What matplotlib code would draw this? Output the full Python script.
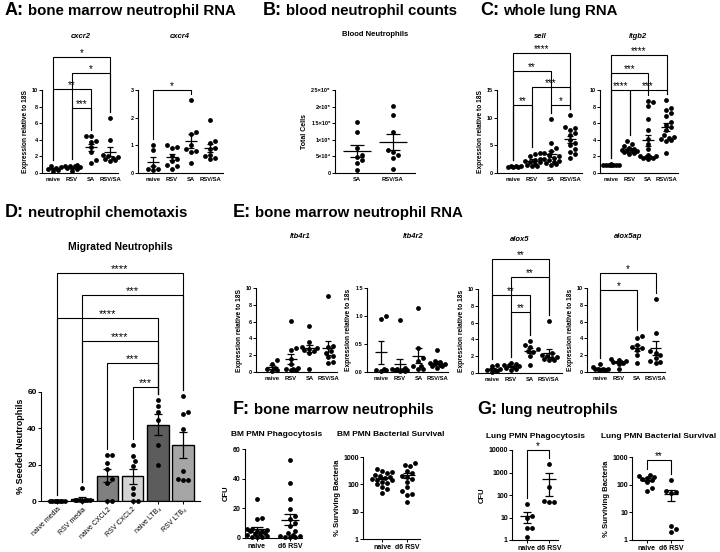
import matplotlib.pyplot as plt
import matplotlib.transforms as mtransforms
from matplotlib.ticker import NullLocator
import numpy as np

plt.rcParams["font.family"] = ["Liberation Sans", "DejaVu Sans"]
plt.rcParams["font.weight"] = "bold"
plt.rcParams["axes.labelweight"] = "bold"

W, H = 720, 552

# ---- data -------------------------------------------------------------
GROUPS4 = ["naive", "RSV", "SA", "RSV/SA"]

CXCR2 = [
    [0.9, 0.7, 0.6, 0.5, 0.4, 0.3],
    [0.95, 0.9, 0.85, 0.8, 0.7, 0.65, 0.6, 0.5, 0.3],
    [4.4, 4.4, 3.9, 3.7, 3.1, 2.5, 1.6, 1.2],
    [6.6, 4.0, 2.2, 2.0, 1.9, 1.8, 1.7, 1.6, 1.5],
]
CXCR4 = [
    [1.0, 0.82, 0.27, 0.15, 0.13, 0.1],
    [1.0, 0.93, 0.9, 0.63, 0.51, 0.45, 0.29, 0.27, 0.15],
    [2.65, 1.48, 1.4, 1.0, 0.85, 0.8, 0.75, 0.36],
    [1.93, 1.15, 1.1, 0.9, 0.87, 0.66, 0.6, 0.53, 0.5],
]

BLOOD_GROUPS = ["SA", "RSV/SA"]
BLOOD = [
    [153000, 124000, 75000, 55000, 48000, 38000, 30000, 10000],
    [202000, 175000, 122000, 68000, 62000, 55000, 45000, 12000],
]
BLOOD_YTICKS = [0, 50000, 100000, 150000, 200000, 250000]
BLOOD_YLABELS = ["0", "5×10⁴", "1×10⁵", "1.5×10⁵", "2×10⁵", "2.5×10⁵"]

SELL = [
    [1.3, 1.2, 1.2, 1.1, 1.0, 1.0],
    [3.6, 3.4, 3.0, 2.6, 2.4, 2.2, 2.0, 1.9, 1.7, 1.5, 1.3, 1.2],
    [9.8, 5.5, 4.6, 4.0, 3.6, 3.2, 3.0, 2.8, 2.6, 2.4, 2.2, 2.0, 1.8, 1.6, 1.5],
    [10.5, 8.3, 8.1, 7.8, 7.2, 6.9, 6.0, 5.5, 5.0, 4.4, 3.8, 3.4, 2.7],
]
ITGB2 = [
    [1.05, 1.0, 1.0, 1.0, 0.95, 0.95, 1.0, 0.98],
    [3.9, 3.5, 3.2, 3.0, 2.9, 2.8, 2.7, 2.6, 2.6, 2.5, 2.4, 2.3],
    [8.7, 8.5, 8.1, 6.5, 5.2, 4.1, 3.5, 2.9, 2.2, 2.0, 1.9, 1.9, 1.8, 1.8, 1.7, 2.1],
    [8.8, 7.8, 7.6, 7.2, 6.9, 6.2, 5.8, 5.5, 5.2, 4.6, 4.3, 4.2, 4.0, 3.9, 4.1, 2.4],
]

CHEMO_GROUPS = ["naive media", "RSV media", "naive CXCL2", "RSV CXCL2", "naive LTB₄", "RSV LTB₄"]
CHEMO = [
    [0.2, 0.15, 0.1, 0.1, 0.2, 0.1, 0.15, 0.1],
    [7.0, 0.5, 0.4, 0.3, 0.5, 0.3, 0.2, 0.4],
    [25.4, 25.4, 20.8, 17.5, 12.0, 9.8, 0.0, 0.0],
    [31.0, 24.5, 22.0, 19.5, 7.0, 4.0, 0.0, 0.0],
    [55.5, 52.5, 49.0, 44.5, 31.0, 20.0],
    [58.0, 49.0, 48.0, 39.5, 16.5, 12.0, 11.5, 11.5],
]
CHEMO_COLORS = ["#3a3a3a", "#222222", "#808080", "#d4d4d4", "#5c5c5c", "#a6a6a6"]

LTB4R1 = [
    [1.4, 1.0, 0.5, 0.3, 0.2, 0.1],
    [6.1, 2.8, 2.6, 1.6, 1.0, 0.5, 0.4, 0.3, 0.2, 0.2],
    [5.5, 3.6, 3.0, 2.8, 2.7, 2.6, 2.5, 2.3, 0.4],
    [9.0, 3.1, 3.0, 2.5, 2.3, 1.9, 1.8, 1.2, 1.1],
]
LTB4R2 = [
    [1.0, 0.95, 0.05, 0.04, 0.03, 0.02],
    [0.93, 0.08, 0.06, 0.05, 0.04, 0.03, 0.03, 0.02, 0.02],
    [1.14, 0.43, 0.25, 0.2, 0.1, 0.06, 0.05, 0.1],
    [0.4, 0.2, 0.18, 0.16, 0.15, 0.14, 0.12, 0.1, 0.1, 0.08],
]
ALOX5 = [
    [1.0, 0.8, 0.5, 0.3, 0.2, 0.1, 0.3],
    [1.2, 1.1, 1.0, 0.9, 0.8, 0.7, 0.6, 0.5, 0.4],
    [3.8, 3.3, 3.1, 2.9, 2.6, 2.5, 2.0, 1.0],
    [6.2, 2.4, 2.2, 2.0, 1.9, 1.8, 1.7, 1.6, 1.5],
]
ALOX5AP = [
    [1.0, 0.6, 0.4, 0.3, 0.2, 0.2, 0.3, 0.4],
    [1.6, 1.4, 1.3, 1.2, 1.2, 1.1, 1.0, 0.4],
    [4.3, 4.0, 3.2, 3.0, 2.8, 2.6, 2.0, 1.1],
    [8.7, 4.6, 2.5, 2.3, 2.0, 1.7, 1.3, 1.2, 1.1],
]

GROUPS2 = ["naive", "d6 RSV"]
BM_PHAGO = [
    [26, 13.5, 12.5, 6, 5, 6, 5.5, 5, 4.5, 3.5, 3, 2.5, 2, 1.5, 1, 0.5, 0.5],
    [52.5, 37, 26.5, 19.5, 15, 12.5, 10, 8, 5, 3.5, 2, 1.5, 1.5, 1, 0.5, 0.5],
]
BM_SURV = [
    [350, 300, 280, 250, 220, 200, 180, 170, 160, 150, 140, 120, 110, 100, 80, 70, 50],
    [600, 500, 450, 320, 250, 200, 180, 160, 120, 80, 55, 45, 40, 22],
]
LUNG_PHAGO = [
    [38, 12, 10, 3.5, 3.5, 1.3],
    [2300, 220, 55, 50, 50],
]
LUNG_SURV = [
    [230, 200, 190, 180, 160, 150, 130, 75, 58],
    [145, 60, 55, 50, 3.2, 2.5, 1.9],
]

# ---- helpers ----------------------------------------------------------
fig = plt.figure(figsize=(W / 100, H / 100), dpi=100)
renderer = fig.canvas.get_renderer()


def px_axes(left, right, top, bottom):
    return fig.add_axes([left / W, 1 - bottom / H, (right - left) / W, (bottom - top) / H])


def cat_axes(left, first, step, right, top, bottom, ylim, yticks, ylabels=None, log=False, fs=4):
    ax = px_axes(left, right, top, bottom)
    ax.set_xlim((left - first) / step, (right - first) / step)
    if log:
        ax.set_yscale("log")
    ax.set_ylim(*ylim)
    ax.set_yticks(yticks)
    ax.set_yticklabels(ylabels if ylabels is not None else [f"{t:g}" for t in yticks])
    ax.yaxis.set_minor_locator(NullLocator())
    ax.spines[["top", "right"]].set_visible(False)
    ax.spines[["left", "bottom"]].set_linewidth(0.8)
    ax.tick_params(labelsize=fs, width=0.7, length=2, pad=1)
    ax.tick_params(axis="x", length=0, pad=3)
    ax.patch.set_visible(False)
    return ax


def swarm_x(ax, xc, vals, spread, diam=5.0):
    pts = ax.transData.transform(np.column_stack([np.full(len(vals), xc), vals]))
    cx, ys = pts[0, 0], pts[:, 1]
    steps = [0.0]
    k = 1
    while k * diam * 0.5 <= spread:
        steps += [k * diam * 0.5, -k * diam * 0.5]
        k += 1
    placed = []
    xs = np.zeros(len(vals))
    for idx in np.argsort(ys):
        best, best_d = 0.0, -1.0
        for s in steps:
            if not placed:
                best = s
                break
            d = min(np.hypot(s - px, ys[idx] - py) for px, py in placed)
            if d >= diam * 0.95:
                best = s
                break
            if d > best_d:
                best_d, best = d, s
        placed.append((best, ys[idx]))
        xs[idx] = cx + best
    return ax.transData.inverted().transform(np.column_stack([xs, ys]))[:, 0]


def dots(ax, data, spread, mean=True, hw=0.32, cap=0.18):
    lo = ax.get_ylim()[0]
    for i, vals in enumerate(data):
        vals = np.asarray(vals, float)
        xs = swarm_x(ax, i, vals, spread)
        ax.scatter(xs, vals, s=12, color="black", linewidths=0, zorder=3, clip_on=False)
        if mean:
            m = vals.mean()
            se = vals.std(ddof=1) / np.sqrt(len(vals))
            bot = max(m - se, lo)
            kw = dict(color="black", lw=0.9, zorder=4, clip_on=False, solid_capstyle="butt")
            ax.plot([i - hw, i + hw], [m, m], **kw)
            ax.plot([i, i], [bot, m + se], **kw)
            ax.plot([i - cap, i + cap], [m + se, m + se], **kw)
            if m - se > lo:
                ax.plot([i - cap, i + cap], [bot, bot], **kw)


def bracket(ax, i, j, ypx, label, data, fs=7):
    tr = mtransforms.blended_transform_factory(ax.transData, mtransforms.IdentityTransform())
    yl = H - ypx

    def leg(g):
        top = ax.transData.transform((g, max(data[g])))[1]
        return min(top + 6, yl)

    ax.plot([i, i, j, j], [leg(i), yl, yl, leg(j)], transform=tr, color="black", lw=0.8,
            clip_on=False, solid_joinstyle="miter")
    ax.text((i + j) / 2, yl + 0.5, label, transform=tr, ha="center", va="baseline",
            fontsize=fs, fontweight="normal", clip_on=False)


def panel_title(x, base, letter, text):
    t = fig.text(x / W, 1 - base / H, letter, fontsize=13, va="baseline")
    bb = t.get_window_extent(renderer)
    fig.text((bb.x1 + 4) / W, 1 - base / H, text, fontsize=10.8, va="baseline")


def sub_title(x, y, text, fs=5.5, italic=False):
    fig.text(x / W, 1 - y / H, text, fontsize=fs, ha="center", va="center",
             style="italic" if italic else "normal")


# ---- A: bone marrow neutrophil RNA -----------------------------------
panel_title(5, 15, "A:", "bone marrow neutrophil RNA")

ax = cat_axes(42, 53, 19, 118, 90, 173, (0, 10), [0, 2, 4, 6, 8, 10])
ax.set_xticks(range(4), GROUPS4, fontsize=4.2)
ax.set_ylabel("Expression relative to 18S", fontsize=4.8, labelpad=2)
dots(ax, CXCR2, 8)
for i, j, y, s in [(0, 3, 57, "*"), (1, 3, 73, "*"), (0, 2, 89, "**"), (1, 2, 108, "***")]:
    bracket(ax, i, j, y, s, CXCR2)
sub_title(81, 36, "cxcr2", italic=True)

ax = cat_axes(138, 153, 19, 223, 90, 173, (0, 3), [0, 1, 2, 3])
ax.set_xticks(range(4), GROUPS4, fontsize=4.2)
dots(ax, CXCR4, 8)
bracket(ax, 0, 2, 90, "*", CXCR4)
sub_title(180, 36, "cxcr4", italic=True)

# ---- B: blood neutrophil counts ----------------------------------------
panel_title(263, 15, "B:", "blood neutrophil counts")
ax = cat_axes(335, 357, 36, 415, 90, 173, (0, 250000), BLOOD_YTICKS, BLOOD_YLABELS)
ax.set_xticks(range(2), BLOOD_GROUPS, fontsize=4.2)
ax.set_ylabel("Total Cells", fontsize=5, labelpad=2)
dots(ax, BLOOD, 9, hw=0.4, cap=0.2)
sub_title(375, 35, "Blood Neutrophils")

# ---- C: whole lung RNA -------------------------------------------------
panel_title(480, 15, "C:", "whole lung RNA")
ax = cat_axes(497, 513, 19, 582, 90, 173, (0, 15), [0, 5, 10, 15])
ax.set_xticks(range(4), GROUPS4, fontsize=4.2)
ax.set_ylabel("Expression relative to 18S", fontsize=4.8, labelpad=2)
dots(ax, SELL, 8)
for i, j, y, s in [(0, 3, 53, "****"), (0, 2, 71, "**"), (1, 3, 87, "***"),
                   (0, 1, 105, "**"), (2, 3, 105, "*")]:
    bracket(ax, i, j, y, s, SELL)
sub_title(540, 36, "sell", italic=True)

ax = cat_axes(600, 611, 18.5, 678, 90, 173, (0, 10), [0, 2, 4, 6, 8, 10])
ax.set_xticks(range(4), GROUPS4, fontsize=4.2)
dots(ax, ITGB2, 8)
for i, j, y, s in [(0, 3, 55, "****"), (0, 2, 73, "***"), (0, 1, 90, "****"), (1, 3, 90, "***")]:
    bracket(ax, i, j, y, s, ITGB2)
sub_title(638, 36, "itgb2", italic=True)

# ---- D: neutrophil chemotaxis -----------------------------------------
panel_title(5, 217, "D:", "neutrophil chemotaxis")
ax = cat_axes(41, 57, 25.2, 200, 392, 501, (0, 60), [0, 20, 40, 60], fs=6)
ax.tick_params(axis="x", length=2, pad=1.5)
ax.set_xticks(range(6))
ax.set_xticklabels(CHEMO_GROUPS, rotation=45, ha="right", rotation_mode="anchor",
                   fontsize=5, fontweight="normal")
ax.set_ylabel("% Seeded Neutrophils", fontsize=6.5, labelpad=2)
means = [np.mean(v) for v in CHEMO]
sems = [np.std(v, ddof=1) / np.sqrt(len(v)) for v in CHEMO]
ax.bar(range(6), means, width=0.85, color=CHEMO_COLORS, edgecolor="black", linewidth=1, zorder=2)
ax.errorbar(range(6), means, yerr=sems, fmt="none", ecolor="black", elinewidth=0.9,
            capsize=3, capthick=0.9, zorder=4)
dots(ax, CHEMO, 9, mean=False)
for i, j, y, s in [(0, 5, 273, "****"), (1, 5, 295, "***"), (0, 4, 318, "****"),
                   (1, 4, 341, "****"), (2, 4, 363, "***"), (3, 4, 387, "***")]:
    bracket(ax, i, j, y, s, CHEMO, fs=8)
sub_title(120, 247, "Migrated Neutrophils", fs=7.5)

# ---- E: bone marrow neutrophil RNA -----------------------------------
panel_title(233, 217, "E:", "bone marrow neutrophil RNA")
ax = cat_axes(256, 272, 18.7, 337, 288, 372, (0, 10), [0, 2, 4, 6, 8, 10])
ax.set_xticks(range(4), GROUPS4, fontsize=4.2)
ax.set_ylabel("Expression relative to 18S", fontsize=4.8, labelpad=2)
dots(ax, LTB4R1, 8)
sub_title(300, 237, "ltb4r1", italic=True)

ax = cat_axes(367, 381, 18.7, 448, 288, 372, (0, 1.5), [0, 0.5, 1.0, 1.5],
              ["0.0", "0.5", "1.0", "1.5"])
ax.set_xticks(range(4), GROUPS4, fontsize=4.2)
ax.set_ylabel("Expression relative to 18s", fontsize=4.8, labelpad=2)
dots(ax, LTB4R2, 8)
sub_title(413, 237, "ltb4r2", italic=True)

ax = cat_axes(478, 492, 19, 562, 289, 373, (0, 10), [0, 2, 4, 6, 8, 10])
ax.set_xticks(range(4), GROUPS4, fontsize=4.2)
ax.set_ylabel("Expression relative to 18s", fontsize=4.8, labelpad=2)
dots(ax, ALOX5, 8)
for i, j, y, s in [(0, 3, 259, "**"), (1, 3, 277, "**"), (0, 2, 295, "**"), (1, 2, 312, "**")]:
    bracket(ax, i, j, y, s, ALOX5)
sub_title(520, 240, "alox5", italic=True)

ax = cat_axes(587, 600, 18.5, 665, 288, 372, (0, 10), [0, 2, 4, 6, 8, 10])
ax.set_xticks(range(4), GROUPS4, fontsize=4.2)
ax.set_ylabel("Expression relative to 18s", fontsize=4.8, labelpad=2)
dots(ax, ALOX5AP, 8)
for i, j, y, s in [(0, 3, 273, "*"), (0, 2, 290, "*")]:
    bracket(ax, i, j, y, s, ALOX5AP)
sub_title(628, 237, "alox5ap", italic=True)

# ---- F: bone marrow neutrophils --------------------------------------
panel_title(233, 414, "F:", "bone marrow neutrophils")
ax = cat_axes(245, 257, 33, 302, 449, 538, (0, 60), [0, 20, 40, 60], fs=5)
ax.tick_params(axis="x", length=2, pad=1.5)
ax.set_xticks(range(2), GROUPS2, fontsize=5)
ax.set_ylabel("CFU", fontsize=5.5, labelpad=2)
dots(ax, BM_PHAGO, 12, hw=0.27, cap=0.17)
sub_title(277, 435, "BM PMN Phagocytosis", fs=6)

ax = cat_axes(363, 382, 25, 420, 457, 539, (1, 1000), [1, 10, 100, 1000], log=True, fs=5)
ax.tick_params(axis="x", length=2, pad=1.5)
ax.set_xticks(range(2), GROUPS2, fontsize=5)
ax.set_ylabel("% Surviving Bacteria", fontsize=5.5, labelpad=2)
dots(ax, BM_SURV, 10, hw=0.3, cap=0.18)
sub_title(391, 435, "BM PMN Bacterial Survival", fs=6)

# ---- G: lung neutrophils ---------------------------------------------
panel_title(477, 414, "G:", "lung neutrophils")
ax = cat_axes(512, 527, 22, 558, 450, 540, (1, 10000), [1, 10, 100, 1000, 10000], log=True, fs=5)
ax.tick_params(axis="x", length=2, pad=1.5)
ax.set_xticks(range(2), GROUPS2, fontsize=5)
ax.set_ylabel("CFU", fontsize=5.5, labelpad=2)
dots(ax, LUNG_PHAGO, 8, hw=0.3, cap=0.18)
bracket(ax, 0, 1, 450, "*", LUNG_PHAGO)
sub_title(536, 436, "Lung PMN Phagocytosis", fs=6)

ax = cat_axes(632, 647, 24, 683, 457, 540, (1, 1000), [1, 10, 100, 1000], log=True, fs=5)
ax.tick_params(axis="x", length=2, pad=1.5)
ax.set_xticks(range(2), GROUPS2, fontsize=5)
ax.set_ylabel("% Surviving Bacteria", fontsize=5.5, labelpad=2)
dots(ax, LUNG_SURV, 9, hw=0.3, cap=0.18)
bracket(ax, 0, 1, 460, "**", LUNG_SURV)
sub_title(659, 436, "Lung PMN Bacterial Survival", fs=6)

fig.savefig("out.png", dpi=100)
